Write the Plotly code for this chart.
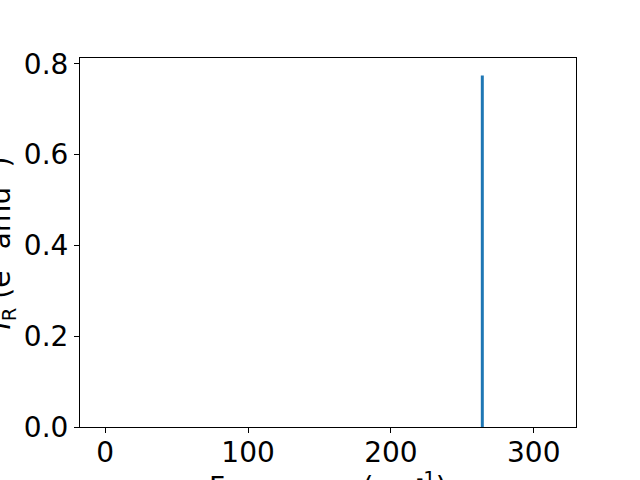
import plotly.graph_objects as go

freqs = [264.0]
intensities = [0.774]
x_ticks = [0, 100, 200, 300]
y_ticks = [0.0, 0.2, 0.4, 0.6, 0.8]

fig = go.Figure()
fig.add_trace(go.Bar(x=freqs, y=intensities, width=[2.1], marker=dict(color="#1f77b4", line=dict(width=0))))

FONT = "DejaVu Sans"
FS = 28
axis_common = dict(showline=True, linecolor="black", linewidth=1, mirror=True,
                   ticks="outside", ticklen=5, tickwidth=1, tickcolor="black",
                   showgrid=False, zeroline=False, automargin=False,
                   tickfont=dict(family=FONT, size=FS, color="black"))

fig.update_xaxes(range=[-17.7, 329.6], tickvals=x_ticks, ticklabelstandoff=-5, **axis_common)
fig.update_yaxes(range=[0, 0.8127], tickvals=y_ticks, tickformat=".1f", **axis_common)

fig.add_annotation(text="Frequency (cm<sup>-1</sup>)", xref="paper", yref="paper",
                   x=0.5, y=-0.104, xanchor="center", yanchor="top", showarrow=False,
                   font=dict(family=FONT, size=FS, color="black"))
fig.add_annotation(text="<i>I</i><sub>R</sub> (e<sup>2</sup> amu<sup>-1</sup>)", xref="paper", yref="paper",
                   x=-0.114, y=0.5, xanchor="right", yanchor="middle", textangle=-90, showarrow=False,
                   font=dict(family=FONT, size=FS, color="black"))

fig.update_layout(width=640, height=480, margin=dict(l=80, r=64, t=58, b=53, autoexpand=False),
                  paper_bgcolor="white", plot_bgcolor="white", showlegend=False)

fig.write_html("out.html", config={"displayModeBar": False},
               post_script="document.body.style.margin='0px';")
